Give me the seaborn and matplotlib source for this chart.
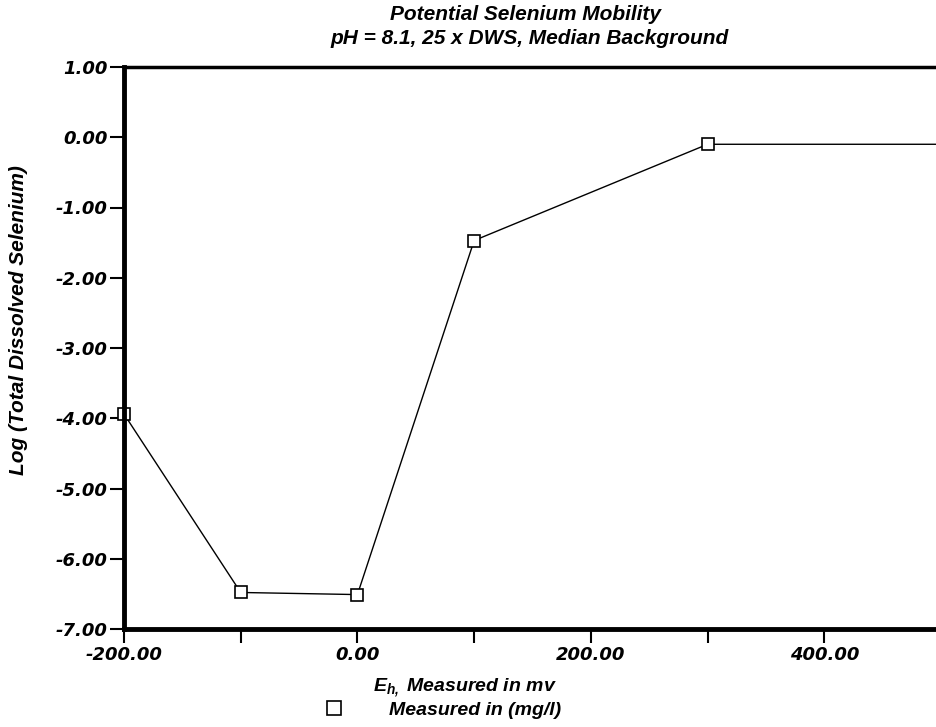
import matplotlib
matplotlib.use("Agg")
import matplotlib.pyplot as plt
import seaborn as sns
import pandas as pd
from matplotlib.lines import Line2D
from matplotlib.ticker import FixedLocator, FuncFormatter

eh_mv = [-200, -100, 0, 100, 300, 500]
log_se = [-3.94, -6.48, -6.51, -1.47, -0.10, -0.10]
x_ticks = [-200, -100, 0, 100, 200, 300, 400]
x_labeled = [-200, 0, 200, 400]
y_ticks = [1, 0, -1, -2, -3, -4, -5, -6, -7]

title_1 = "Potential Selenium Mobility"
title_2 = "pH = 8.1, 25 x DWS, Median Background"
ylabel = "Log (Total Dissolved Selenium)"
xlabel = r"$E_{h,}$ Measured in mv"
legend_label = "Measured in (mg/l)"

sns.set_theme(style="white")
plt.rcParams["font.family"] = ["Liberation Sans", "DejaVu Sans"]
plt.rcParams["text.color"] = "black"
plt.rcParams["axes.labelcolor"] = "black"
plt.rcParams["xtick.color"] = "black"
plt.rcParams["ytick.color"] = "black"
plt.rcParams["mathtext.fontset"] = "custom"
plt.rcParams["mathtext.it"] = "Liberation Sans:italic:bold"
plt.rcParams["mathtext.rm"] = "Liberation Sans:italic:bold"

df = pd.DataFrame({"eh": eh_mv, "se": log_se})

fig = plt.figure(figsize=(9.37, 7.27), dpi=100)
ax = fig.add_axes([124/937, 98/727, 817/937, 562/727])

sns.lineplot(data=df, x="eh", y="se", ax=ax, color="black", linewidth=1.0,
             marker="s", markersize=8, markerfacecolor="white",
             markeredgecolor="black", markeredgewidth=1.2, clip_on=False,
             markevery=list(range(len(eh_mv) - 1)))
ax.set_xlim(-200, 500)
ax.set_ylim(-7, 1)

ax.xaxis.set_major_locator(FixedLocator(x_ticks))
ax.xaxis.set_major_formatter(FuncFormatter(
    lambda v, p: f"{v:.2f}" if int(round(v)) in x_labeled else ""))
ax.yaxis.set_major_locator(FixedLocator(y_ticks))
ax.yaxis.set_major_formatter(FuncFormatter(lambda v, p: f"{v:.2f}"))

ax.tick_params(axis="both", direction="out", length=10, width=1.5, color="black",
               labelcolor="black", pad=2, bottom=True, left=True)
for lab in ax.get_xticklabels() + ax.get_yticklabels():
    lab.set_fontfamily("DejaVu Sans")
    lab.set_fontstyle("oblique")
    lab.set_fontweight("bold")
    lab.set_fontsize(13)

for s in ["left", "bottom"]:
    ax.spines[s].set_linewidth(3.5)
    ax.spines[s].set_color("black")
ax.spines["top"].set_linewidth(2.5)
ax.spines["top"].set_color("black")
ax.spines["right"].set_visible(False)

ax.set_xlabel("")
ax.set_ylabel("")

txt = dict(fontstyle="italic", fontweight="bold", color="black")
fig.text(526/937, 1 - 15/727, title_1, ha="center", va="center", fontsize=15, **txt)
fig.text(530/937, 1 - 38/727, title_2, ha="center", va="center", fontsize=15, **txt)
fig.text(19/937, 1 - 320/727, ylabel, rotation=90, ha="center", va="center",
         fontsize=15, **txt)
fig.text(465/937, 1 - 688/727, xlabel, ha="center", va="center", fontsize=14, **txt)

handle = Line2D([], [], linestyle="none", marker="s", markersize=10,
                markerfacecolor="white", markeredgecolor="black", markeredgewidth=1.2)
leg = fig.legend([handle], [legend_label], loc="center",
                 bbox_to_anchor=(438/937, 1 - 710/727), frameon=False,
                 handletextpad=1.8,
                 prop={"size": 14, "style": "italic", "weight": "bold"})
for t in leg.get_texts():
    t.set_color("black")

fig.savefig("out.png", dpi=100)
